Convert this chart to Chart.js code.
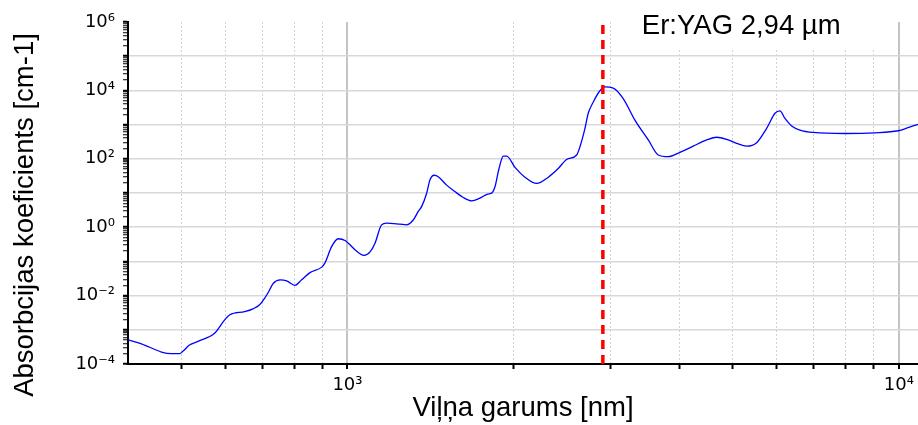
<!DOCTYPE html>
<html>
<head>
<meta charset="utf-8">
<script src="https://cdn.jsdelivr.net/npm/chart.js@4"></script>
<style>
  html, body { margin: 0; padding: 0; background: #fff; }
</style>
</head>
<body>
<canvas id="chart" width="918" height="425"></canvas>
<script>
// viļņa garums [nm]
const wavelength = [
  400, 423, 460, 479, 496, 503, 517, 536, 574, 599, 612, 651, 674, 693, 708, 717,
  734, 755, 776, 803, 826, 855, 898, 910, 936, 962, 990, 1032, 1071, 1099, 1122,
  1153, 1178, 1245, 1280, 1316, 1344, 1363, 1392, 1411, 1437, 1461, 1513, 1566,
  1622, 1680, 1739, 1796, 1830, 1851, 1883, 1917, 1944, 2013, 2098, 2203, 2313,
  2411, 2497, 2604, 2640, 2696, 2733, 2791, 2870, 2931, 3034, 3163, 3321, 3512,
  3662, 3816, 4008, 4236, 4481, 4671, 4871, 5079, 5296, 5521, 5756, 5961, 6087,
  6215, 6390, 6615, 6993, 7982, 9048, 9970, 10396, 10830
];
// absorbcijas koeficients [cm-1]
const absorption = [
  5.1e-4, 3.9e-4, 2.24e-4, 2.0e-4, 2.0e-4, 2.34e-4, 3.6e-4, 4.6e-4, 7.9e-4, 1.95e-3,
  2.75e-3, 3.4e-3, 4.1e-3, 5.4e-3, 8.5e-3, 1.17e-2,
  2.3e-2, 2.9e-2, 2.7e-2, 2.0e-2, 2.9e-2, 4.7e-2, 6.8e-2, 8.9e-2, 0.27, 0.46, 0.41,
  0.22, 0.15, 0.19, 0.34,
  1.17, 1.32, 1.23, 1.17, 1.62, 2.9, 4.0, 9.8, 24, 33, 30, 17, 11,
  7.4, 5.9, 7.1, 9.3, 10.2, 15, 52, 120, 120, 56, 29, 19, 29,
  52, 95, 129, 224, 776, 2140, 4570, 9770, 12600, 11700, 5750, 1350, 355,
  129, 115, 155, 234, 355, 427, 372, 282, 234, 295, 776, 2140, 2510,
  1510, 912, 692, 589, 550, 575, 661, 813, 1020
];

const laserLine = 2905;
const laserLabel = 'Er:YAG 2,94 µm';

const xMin = 400, xMax = 10830;
const yMin = 1e-4, yMax = 1e6;

const yDecades = [1e-4, 1e-3, 1e-2, 1e-1, 1, 10, 100, 1e3, 1e4, 1e5, 1e6];
const minorSteps = [2, 3, 4, 5, 6, 7, 8, 9];

const xTickValues = [500, 600, 700, 800, 900, 1000, 2000, 3000, 4000, 5000, 6000, 7000, 8000, 9000, 10000];
const xLabelValues = [1000, 10000];
const xLabels = ['10³', '10⁴'];
const yLabelValues = [1e-4, 1e-2, 1, 100, 1e4, 1e6];
const yLabels = ['10⁻⁴', '10⁻²', '10⁰', '10²', '10⁴', '10⁶'];

const yTickValues = [];
yDecades.forEach(d => {
  yTickValues.push(d);
  if (d < yMax) minorSteps.forEach(m => yTickValues.push(d * m));
});

const family = "'Liberation Sans', Arial, sans-serif";
const tickFamily = "'DejaVu Sans', Verdana, sans-serif";
const isDecade = v => Math.abs(Math.log10(v) - Math.round(Math.log10(v))) < 1e-9;
const findLabel = (v, vals, labels) => {
  const i = vals.findIndex(a => Math.abs(a - v) / a < 1e-9);
  return i < 0 ? '' : labels[i];
};

// teksts pie lāzera līnijas + y ass nosaukums
const labelsPlugin = {
  id: 'labels',
  afterDatasetsDraw(chart) {
    const {ctx, chartArea, scales} = chart;
    const lx = scales.x.getPixelForValue(laserLine);
    ctx.save();
    ctx.fillStyle = '#fff';
    ctx.fillRect(lx + 24, 0, 258, chartArea.top + 28);
    ctx.fillStyle = '#000';
    ctx.font = '27.5px ' + family;
    ctx.textAlign = 'left';
    ctx.textBaseline = 'alphabetic';
    ctx.fillText(laserLabel, lx + 39, chartArea.top + 11.5);

    ctx.translate(25, 215);
    ctx.rotate(-Math.PI / 2);
    ctx.textAlign = 'center';
    ctx.textBaseline = 'middle';
    ctx.fillText('Absorbcijas koeficients [cm-1]', 0, 0);
    ctx.restore();
  }
};

new Chart(document.getElementById('chart'), {
  type: 'line',
  data: {
    datasets: [
      {
        label: laserLabel,
        data: [{x: laserLine, y: yMin}, {x: laserLine, y: yMax}],
        borderColor: '#ff0000',
        borderWidth: 3.5,
        borderDash: [9, 6],
        pointRadius: 0,
        order: 0
      },
      {
        label: 'H2O',
        data: wavelength.map((w, i) => ({x: w, y: absorption[i]})),
        borderColor: '#0000ff',
        borderWidth: 1.3,
        pointRadius: 0,
        cubicInterpolationMode: 'monotone',
        order: 1
      }
    ]
  },
  options: {
    responsive: false,
    animation: false,
    devicePixelRatio: 1,
    layout: { padding: { top: 22, right: 0, bottom: 0, left: 0 } },
    plugins: { legend: { display: false }, tooltip: { enabled: false } },
    scales: {
      x: {
        type: 'logarithmic',
        min: xMin,
        max: xMax,
        afterBuildTicks: s => { s.ticks = xTickValues.map(v => ({value: v})); },
        afterFit: s => { s.height = 61; s.paddingLeft = 0; s.paddingRight = 0; },
        ticks: {
          autoSkip: false, maxRotation: 0, padding: 6, color: '#000',
          font: { family: tickFamily, size: 18 },
          callback: v => findLabel(v, xLabelValues, xLabels)
        },
        grid: {
          color: c => isDecade(c.tick.value) ? '#c4c4c4' : '#d2d2d2',
          lineWidth: c => isDecade(c.tick.value) ? 2 : 1,
          tickColor: '#000', tickLength: 5, tickWidth: 2
        },
        border: {
          color: '#000', width: 2,
          dash: c => (c.tick && !isDecade(c.tick.value)) ? [2, 2] : []
        },
        title: {
          display: true, text: 'Viļņa garums [nm]', color: '#000',
          font: { family, size: 27.5 }, padding: { top: 0, bottom: 0 }
        }
      },
      y: {
        type: 'logarithmic',
        min: yMin,
        max: yMax,
        afterBuildTicks: s => { s.ticks = yTickValues.map(v => ({value: v})); },
        afterFit: s => { s.width = 128; s.paddingTop = 0; s.paddingBottom = 0; },
        ticks: {
          autoSkip: false, padding: 8, color: '#000',
          font: { family: tickFamily, size: 18 },
          callback: v => findLabel(v, yLabelValues, yLabels)
        },
        grid: {
          color: c => (isDecade(c.tick.value) && c.tick.value < yMax) ? '#d8d8d8' : 'rgba(0,0,0,0)',
          lineWidth: 1.5,
          tickColor: '#000', tickLength: 5,
          tickWidth: c => isDecade(c.tick.value) ? 2 : 1
        },
        border: { color: '#000', width: 2 }
      }
    }
  },
  plugins: [labelsPlugin]
});
</script>
</body>
</html>
